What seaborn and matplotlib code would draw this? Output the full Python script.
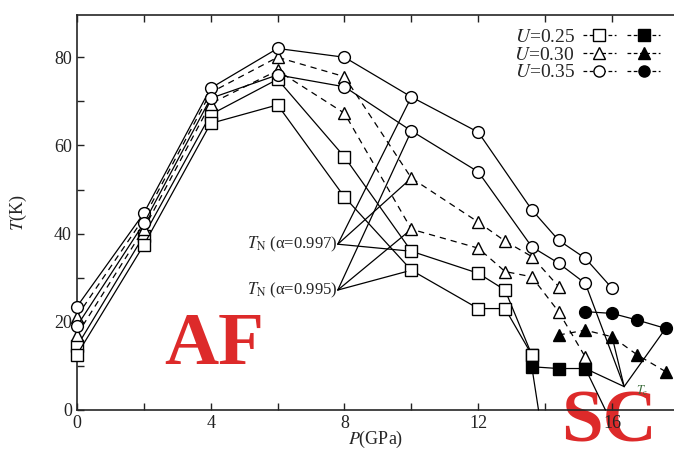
import matplotlib
matplotlib.use("Agg")
import matplotlib.pyplot as plt
import pandas as pd
import seaborn as sns
from matplotlib.lines import Line2D
from matplotlib.legend_handler import HandlerTuple

# ---------------------- data ----------------------
# T_N curves (open markers), pressure in GPa, temperature in K
p_u35_997 = [0, 2, 4, 6, 8, 10, 12, 13.6, 14.4, 15.2, 16]
t_u35_997 = [23.4, 44.6, 73, 82, 80, 71, 63, 45.4, 38.5, 34.4, 27.6]
p_u35_995 = [0, 2, 4, 6, 8, 10, 12, 13.6, 14.4, 15.2]
t_u35_995 = [19, 42.3, 70.7, 76, 73.3, 63.3, 54, 37, 33.3, 28.7]

p_u30_997 = [0, 2, 4, 6, 8, 10, 12, 12.8, 13.6, 14.4]
t_u30_997 = [21.2, 43.5, 72, 80, 75.6, 52.6, 42.6, 38.3, 34.8, 28]
p_u30_995 = [0, 2, 4, 6, 8, 10, 12, 12.8, 13.6, 14.4, 15.2]
t_u30_995 = [17, 41, 69.5, 77, 67.3, 41, 36.7, 31.4, 30.2, 22.3, 12]

p_u25_997 = [0, 2, 4, 6, 8, 10, 12, 12.8, 13.6]
t_u25_997 = [14.4, 39.5, 67, 75, 57.4, 36, 31, 27.2, 12.5]
p_u25_995 = [0, 2, 4, 6, 8, 10, 12, 12.8, 13.6]
t_u25_995 = [12.5, 37.4, 65, 69.2, 48.3, 31.7, 23, 23, 12.5]

# T_c curves (filled markers)
p_sc_u25 = [13.8, 13.6, 14.4, 15.2, 15.8]
t_sc_u25 = [0, 9.8, 9.4, 9.4, 0]
p_sc_u30 = [14.4, 15.2, 16, 16.75, 17.6]
t_sc_u30 = [17, 18.1, 16.6, 12.5, 8.7]
p_sc_u35 = [15.2, 16, 16.75, 17.6]
t_sc_u35 = [22.3, 21.9, 20.4, 18.5]

# annotation anchors and the points they point at
tn997_anchor = (7.8, 37.6)
tn997_targets = [(10, 71), (10, 52.6), (10, 36)]
tn995_anchor = (7.8, 27.2)
tn995_targets = [(10, 63.3), (10, 41), (10, 31.7)]
tc_anchor = (16.36, 5.3)
tc_targets = [(15.2, 9.4), (16, 16.6), (17.6, 18.5), (15.2, 28.7)]

u_labels = ["$U$=0.25", "$U$=0.30", "$U$=0.35"]

# ---------------------- style ----------------------
sns.set_theme(style="ticks")
plt.rcParams['font.family'] = ['Liberation Serif', 'DejaVu Serif']
plt.rcParams['mathtext.fontset'] = 'stix'
plt.rcParams['xtick.direction'] = 'in'
plt.rcParams['ytick.direction'] = 'in'

fig = plt.figure(figsize=(6.74, 4.53), dpi=100)
ax = fig.add_axes([0.114, 0.095, 0.886, 0.872])

line_kw = dict(color='black', linewidth=0.9, markeredgecolor='black',
               markeredgewidth=1.0, markersize=8.5, sort=False, estimator=None,
               ax=ax, legend=False)

series = [
    (p_u25_997, t_u25_997, 's', '-'),
    (p_u25_995, t_u25_995, 's', '-'),
    (p_u30_997, t_u30_997, '^', (0, (5, 4))),
    (p_u30_995, t_u30_995, '^', (0, (5, 4))),
    (p_u35_997, t_u35_997, 'o', '-'),
    (p_u35_995, t_u35_995, 'o', '-'),
]
for p, t, mk, ls in series:
    df = pd.DataFrame({'P': p, 'T': t})
    sns.lineplot(data=df, x='P', y='T', marker=mk, linestyle=ls,
                 markerfacecolor='white', clip_on=False, zorder=3, **line_kw)

sc_series = [
    (p_sc_u25, t_sc_u25, 's', '-', [1, 2, 3]),
    (p_sc_u30, t_sc_u30, '^', (0, (5, 4)), None),
    (p_sc_u35, t_sc_u35, 'o', '-', None),
]
for p, t, mk, ls, every in sc_series:
    df = pd.DataFrame({'P': p, 'T': t})
    sns.lineplot(data=df, x='P', y='T', marker=mk, linestyle=ls,
                 markerfacecolor='black', markevery=every, clip_on=False,
                 zorder=3, **line_kw)

# ---------------------- annotations ----------------------
ax.text(tn997_anchor[0], tn997_anchor[1], r"$T_{\rm N}$ (α=0.997)",
        ha='right', va='center', fontsize=12)
ax.text(tn995_anchor[0], tn995_anchor[1], r"$T_{\rm N}$ (α=0.995)",
        ha='right', va='center', fontsize=12)
for anchor, targets in [(tn997_anchor, tn997_targets),
                        (tn995_anchor, tn995_targets),
                        (tc_anchor, tc_targets)]:
    for tg in targets:
        ax.annotate('', xy=tg, xytext=anchor,
                    arrowprops=dict(arrowstyle='-', lw=0.9, color='black',
                                    shrinkA=0, shrinkB=4))

ax.text(16.7, 3.5, r"$T_{\rm c}$", fontsize=9, color='#3a6b3a', zorder=1)
ax.text(4.1, 14.5, "AF", color='#dd2a2a', fontsize=54, fontweight='bold',
        ha='center', va='center', zorder=5)
ax.text(15.9, -3.0, "SC", color='#dd2a2a', fontsize=54, fontweight='bold',
        ha='center', va='center', zorder=0.5, clip_on=False)

# ---------------------- legend ----------------------
handles = []
for mk in ['s', '^', 'o']:
    h_open = Line2D([], [], color='black', lw=0.9, ls=(0, (3, 2)), marker=mk,
                    mfc='white', mec='black', ms=8)
    h_fill = Line2D([], [], color='black', lw=0.9, ls=(0, (3, 2)), marker=mk,
                    mfc='black', mec='black', ms=8)
    handles.append((h_open, h_fill))
ax.legend(handles, u_labels, handler_map={tuple: HandlerTuple(ndivide=None, pad=0.6)},
          markerfirst=False, frameon=False, fontsize=14, handlelength=4.0,
          handletextpad=0.4, labelspacing=0.0, loc='upper right',
          bbox_to_anchor=(1.0, 1.0), borderaxespad=0.3)

# ---------------------- axes ----------------------
ax.set_xlim(0, 17.85)
ax.set_ylim(0, 89.6)
ax.set_xticks([0, 4, 8, 12, 16])
ax.set_xticks([2, 6, 10, 14], minor=True)
ax.set_yticks([0, 20, 40, 60, 80])
ax.set_yticks([10, 30, 50, 70], minor=True)
ax.tick_params(which='both', top=True, right=False, length=5, width=1,
               labelsize=13, colors='#222222')
ax.spines['right'].set_visible(False)
for s in ['left', 'bottom', 'top']:
    ax.spines[s].set_linewidth(1.2)
ax.set_xlabel("$P$(GPa)", fontsize=13, labelpad=-2)
ax.set_ylabel("$T$(K)", fontsize=13, labelpad=18)

fig.savefig("out.png", dpi=100)
